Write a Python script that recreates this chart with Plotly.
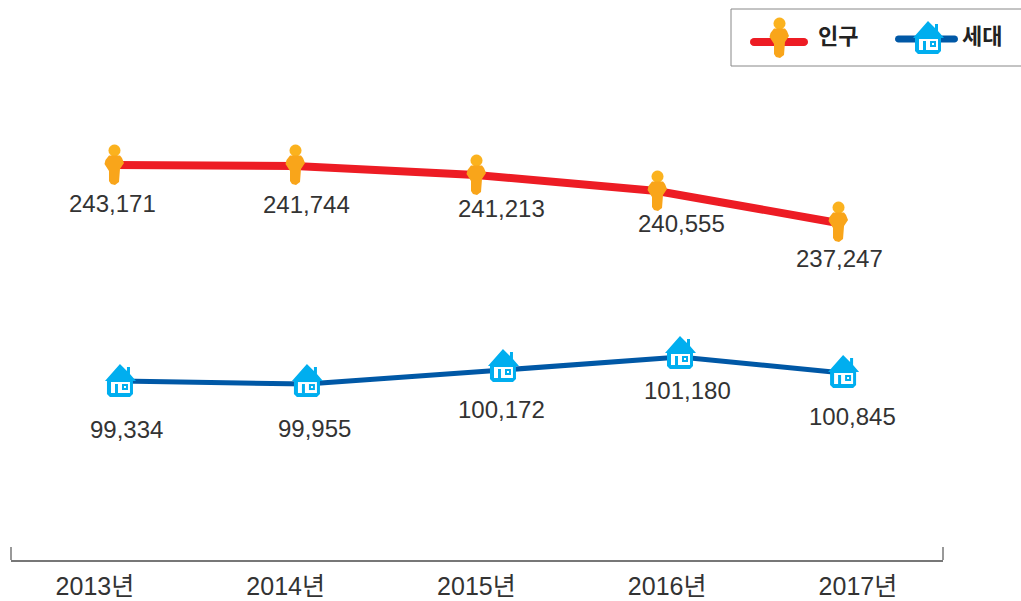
import math
import plotly.graph_objects as go

years = ["2013년", "2014년", "2015년", "2016년", "2017년"]
series_names = ["인구", "세대"]
population_labels = [243171, 241744, 241213, 240555, 237247]
household_labels = [99334, 99955, 100172, 101180, 100845]
# heights of the two lines as drawn in the picture (the source drawing is not to scale)
population_drawn = [243071, 242969, 242050, 240415, 237147]
household_drawn = [99334, 99100, 100181, 101180, 99949]
population_pos = [0, 1, 2, 3, 4]
household_pos = [0.033, 1.066, 2.149, 3.127, 4.028]
population_label_shift = [(-1, -39), (11, -39), (25, -34), (24, -33), (1, -35)]
household_label_shift = [(7, -48), (8, -44), (-1, -40), (7, -33), (9, -43)]
person_lift = [-1, 0, -1, -1, 0]
house_lift = [0, 3, 4, 4, 1]

W, H, B = 1021, 601, 41
RED, BLUE, ORANGE, SKY, INK = "#ED1C24", "#0058A6", "#F9A51A", "#00AEEF", "#333333"
FONT = "Liberation Sans, Noto Sans CJK KR, sans-serif"


def poly(points, dy=0):
    return "M" + " L".join(f"{x:.2f} {y + dy:.2f}" for x, y in points) + " Z"


def disc(cx, cy, r, n=20):
    return [(cx + r * math.cos(2 * math.pi * i / n), cy + r * math.sin(2 * math.pi * i / n)) for i in range(n)]


def pill(half, r, n=8):
    right = [(half + r * math.cos(math.pi * (0.5 - i / n)), r * math.sin(math.pi * (0.5 - i / n))) for i in range(n + 1)]
    left = [(-x, -y) for x, y in right]
    return poly(right + left)


PERSON = [
    (disc(0.5, 15.5, 6), "#FBB21E"),
    ([(-5, 10.5), (6, 10.5), (8, 8), (10, 3), (6, -3), (5, -16), (1, -19), (-3, -18), (-5, -15),
      (-5, -5), (-9.5, 2), (-8.5, 6)], ORANGE),
]
HOUSE = [
    ([(0, 17), (7, 10), (7, 14), (10, 14), (10, 7), (16, 0), (13, 0), (13, -13), (10, -16), (-10, -16),
      (-13, -13), (-13, 0), (-15, 0)], SKY),
    ([(-9, -1), (10, -1), (10, -12), (-9, -12)], "#FFFFFF"),
    ([(-5, -3), (-2, -3), (-2, -12), (-5, -12)], SKY),
    ([(2, -3), (8, -3), (8, -9), (2, -9)], SKY),
    ([(4, -5), (6, -5), (6, -7), (4, -7)], "#FFFFFF"),
]


def icon(parts, x, y, xref, yref, dy=0):
    return [
        dict(type="path", path=p if isinstance(p, str) else poly(p, dy), fillcolor=c, line=dict(width=0),
             xref=xref, yref=yref, xsizemode="pixel", ysizemode="pixel", xanchor=x, yanchor=y, layer="above")
        for p, c in parts
    ]


def px(v):
    return v / W


def py(v):
    return (H - B - v) / (H - B)


fig = go.Figure()
fig.add_trace(go.Scatter(x=years, y=[None] * 5, xaxis="x", yaxis="y", showlegend=False, hoverinfo="skip"))
fig.add_trace(go.Scatter(x=population_pos, y=population_drawn, name=series_names[0], mode="lines",
                         line=dict(color=RED, width=8), xaxis="x2", yaxis="y", showlegend=False))
fig.add_trace(go.Scatter(x=household_pos, y=household_drawn, name=series_names[1], mode="lines",
                         line=dict(color=BLUE, width=5), xaxis="x2", yaxis="y2", showlegend=False))

shapes = []
annotations = []
for x, y, v, (dx, dy), lift in zip(population_pos, population_drawn, population_labels, population_label_shift, person_lift):
    shapes += icon(PERSON, x, y, "x2", "y", lift)
    annotations.append(dict(x=x, y=y, xref="x2", yref="y", text=f"{v:,}", showarrow=False,
                            xshift=dx, yshift=dy, font=dict(family=FONT, size=24, color=INK)))
for x, y, v, (dx, dy), lift in zip(household_pos, household_drawn, household_labels, household_label_shift, house_lift):
    shapes += icon(HOUSE, x, y, "x2", "y2", lift)
    annotations.append(dict(x=x, y=y, xref="x2", yref="y2", text=f"{v:,}", showarrow=False,
                            xshift=dx, yshift=dy, font=dict(family=FONT, size=24, color=INK)))

# bracket ends of the axis
for frac in (px(11), px(943)):
    shapes.append(dict(type="line", xref="paper", yref="paper", x0=frac, x1=frac, y0=0, y1=13 / (H - B),
                       line=dict(color="#777777", width=1.5)))

# legend box, keys and texts
shapes.append(dict(type="rect", xref="paper", yref="paper", x0=px(731), x1=px(1022), y0=py(66), y1=py(9),
                   line=dict(color="#888888", width=1), fillcolor="white"))
shapes += icon([(pill(25, 4), RED)], px(779), py(42), "paper", "paper")
shapes += icon([(pill(28, 3.5), BLUE)], px(926.5), py(39), "paper", "paper")
shapes += icon(PERSON, px(779), py(39), "paper", "paper")
shapes += icon(HOUSE, px(928), py(38), "paper", "paper")
for name, lx in zip(series_names, (818, 962)):
    annotations.append(dict(x=px(lx), y=py(37), xref="paper", yref="paper", xanchor="left", yanchor="middle",
                            xshift=-2, text=f"<b>{name}</b>", showarrow=False,
                            font=dict(family=FONT, size=22, color="#222222")))

fig.update_layout(
    width=W, height=H, margin=dict(l=0, r=0, t=0, b=B),
    paper_bgcolor="white", plot_bgcolor="white", font=dict(family=FONT, color=INK),
    showlegend=False,
    xaxis=dict(type="category", categoryorder="array", categoryarray=years, domain=[px(11), px(943)],
               range=[-0.44, 4.446], showgrid=False, zeroline=False, ticks="outside", ticklen=3,
               tickcolor="rgba(0,0,0,0)", showline=True,
               linecolor="#777777", linewidth=2, tickfont=dict(family=FONT, size=25, color=INK)),
    xaxis2=dict(overlaying="x", domain=[px(11), px(943)], range=[-0.569, 4.58], visible=False),
    yaxis=dict(range=[202740, 259915], visible=False),
    yaxis2=dict(overlaying="y", range=[85569, 128633], visible=False),
    shapes=shapes, annotations=annotations,
)
fig.write_html("out.html", config={"displayModeBar": False},
               post_script="document.body.style.margin='0';")
